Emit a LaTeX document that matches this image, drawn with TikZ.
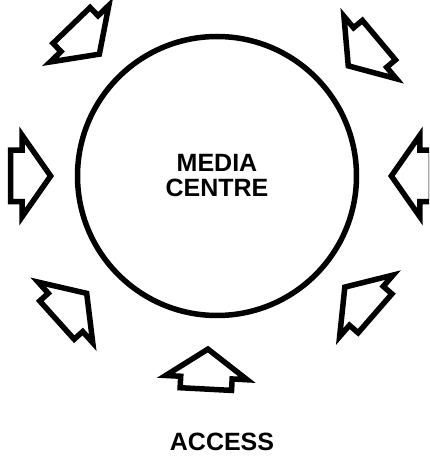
\documentclass[tikz,border=0pt]{standalone}
\usepackage{fontspec}
\setmainfont{Liberation Sans}
\usetikzlibrary{shapes,calc,positioning}
\tikzset{hub/.style={
            draw,
            circle,
            line width=5.5pt,
            inner sep=0pt,
            minimum size=279pt,
            align=center,
            font=\bfseries\fontsize{25}{25}\selectfont
        },
        inarrow/.style={
            draw,
            single arrow,
            line width=5.5pt,
            line join=miter,
            inner xsep=0pt,
            inner ysep=23pt,
            minimum height=40pt,
            single arrow head extend=15pt,
            single arrow tip angle=110
        },
        label/.style={
            font=\bfseries\fontsize{25}{25}\selectfont
        }
    }
\begin{document}
\begin{tikzpicture}[x=1pt,y=1pt]
        \useasboundingbox (0,0) rectangle (429,461);
        \clip (0,0) rectangle (429,461);
        \node[hub] at (217,285) (centre) {MEDIA\\CENTRE};
        % arrows all point at the centre
        \foreach \ang/\dist [count=\i] in {0/171,40/168,134/166,180/163,222/172,267/170,319/166}
            \node[inarrow,rotate=\ang+180,anchor=tip] at ($(centre.center)+(\ang:\dist)$) (in\i) {};
        \node[label] at (222,19) (access) {ACCESS};
    \end{tikzpicture}
\end{document}
